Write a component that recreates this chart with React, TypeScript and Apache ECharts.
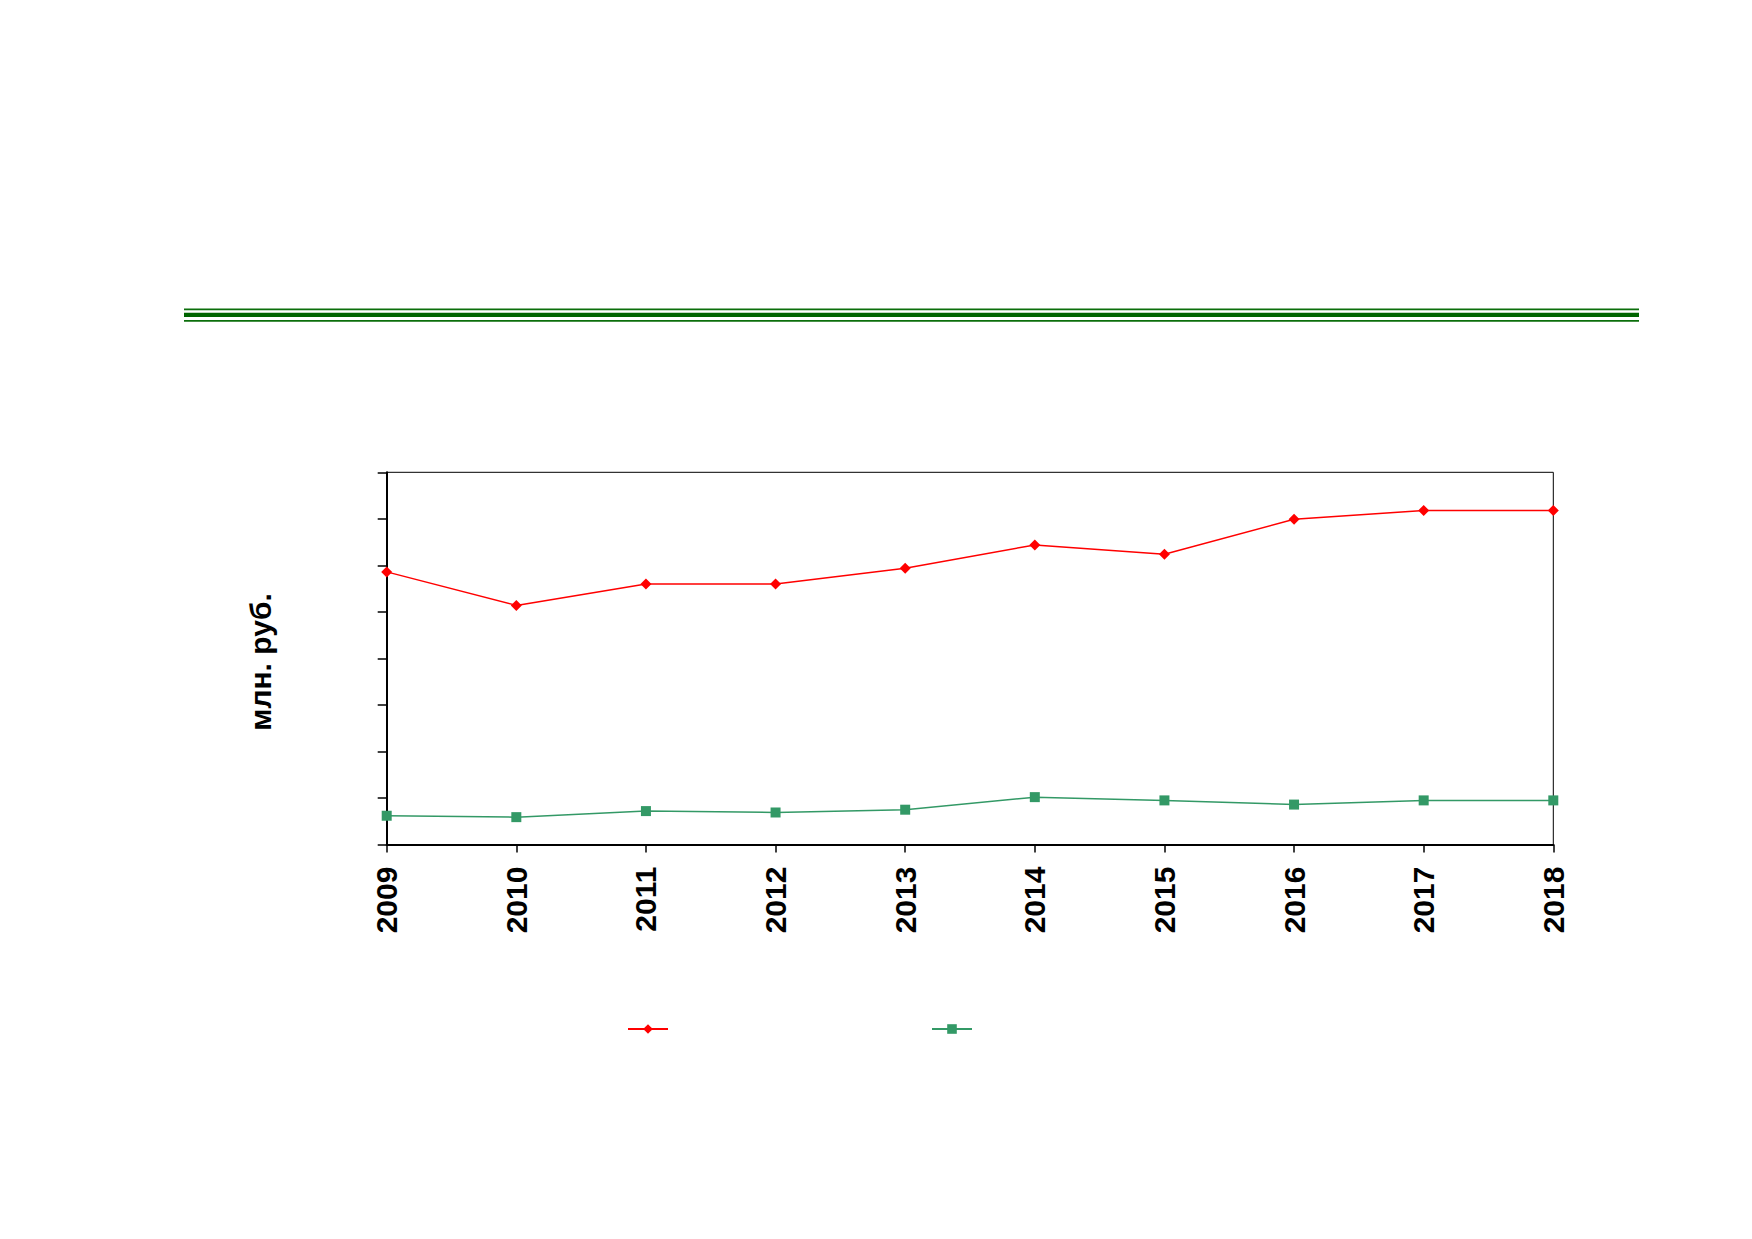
import React, { useEffect, useRef } from "react";
import * as echarts from "echarts";

const years = ["2009", "2010", "2011", "2012", "2013", "2014", "2015", "2016", "2017", "2018"];
const redValues = [5.86, 5.14, 5.6, 5.6, 5.94, 6.44, 6.24, 6.99, 7.18, 7.18];
const greenValues = [0.62, 0.59, 0.72, 0.69, 0.75, 1.02, 0.95, 0.86, 0.95, 0.95];
const redName = "Ряд 1";
const greenName = "Ряд 2";
const yAxisTitle = "млн. руб.";

export default function App() {
  const ref = useRef<HTMLDivElement>(null);
  useEffect(() => {
    document.body.style.margin = "0";
    const chart = echarts.init(ref.current!, undefined, { renderer: "svg" });
    const font = "'Liberation Sans', Arial, sans-serif";
    chart.setOption({
      animation: false,
      backgroundColor: "#ffffff",
      grid: {
        left: 386.7,
        right: 198.7,
        top: 472.3,
        bottom: 394.4,
        show: true,
        borderColor: "#000000",
        borderWidth: 1,
        containLabel: false,
      },
      xAxis: {
        type: "category",
        data: years,
        boundaryGap: false,
        axisLine: { show: true, lineStyle: { color: "#000000", width: 2 } },
        axisTick: { show: true, alignWithLabel: true, length: 8, lineStyle: { color: "#000000", width: 1.5 } },
        axisLabel: {
          rotate: 90,
          margin: 22,
          color: "#000000",
          fontFamily: font,
          fontWeight: "bold",
          fontSize: 30,
        },
        splitLine: { show: false },
      },
      yAxis: {
        type: "value",
        min: 0,
        max: 8,
        interval: 1,
        axisLine: { show: true, lineStyle: { color: "#000000", width: 2 } },
        axisTick: { show: true, length: 9, lineStyle: { color: "#000000", width: 1.5 } },
        axisLabel: { show: false },
        splitLine: { show: false },
      },
      legend: [
        {
          data: [redName],
          left: 627,
          top: 1023,
          padding: 0,
          itemWidth: 40,
          itemHeight: 12,
          formatter: () => "",
          textStyle: { fontSize: 1 },
        },
        {
          data: [greenName],
          left: 931,
          top: 1023,
          padding: 0,
          itemWidth: 40,
          itemHeight: 12,
          formatter: () => "",
          textStyle: { fontSize: 1 },
        },
      ],
      graphic: [
        { type: "rect", shape: { x: 184, y: 308.5, width: 1455, height: 1.8 }, style: { fill: "#0b6e0b" } },
        { type: "rect", shape: { x: 184, y: 312.7, width: 1455, height: 4.2 }, style: { fill: "#006400" } },
        { type: "rect", shape: { x: 184, y: 320, width: 1455, height: 1.8 }, style: { fill: "#0b6e0b" } },
        {
          type: "text",
          x: 260,
          y: 662,
          rotation: Math.PI / 2,
          style: {
            text: yAxisTitle,
            fill: "#000000",
            font: `bold 30px ${font}`,
            textAlign: "center",
            textVerticalAlign: "middle",
          },
        },
      ],
      series: [
        {
          name: redName,
          type: "line",
          data: redValues,
          symbol: "diamond",
          symbolSize: 11,
          itemStyle: { color: "#ff0000" },
          lineStyle: { color: "#ff0000", width: 1.5 },
        },
        {
          name: greenName,
          type: "line",
          data: greenValues,
          symbol: "rect",
          symbolSize: 10,
          itemStyle: { color: "#339966" },
          lineStyle: { color: "#339966", width: 1.5 },
        },
      ],
    });
    return () => chart.dispose();
  }, []);
  return <div ref={ref} style={{ width: 1752, height: 1239 }} />;
}
